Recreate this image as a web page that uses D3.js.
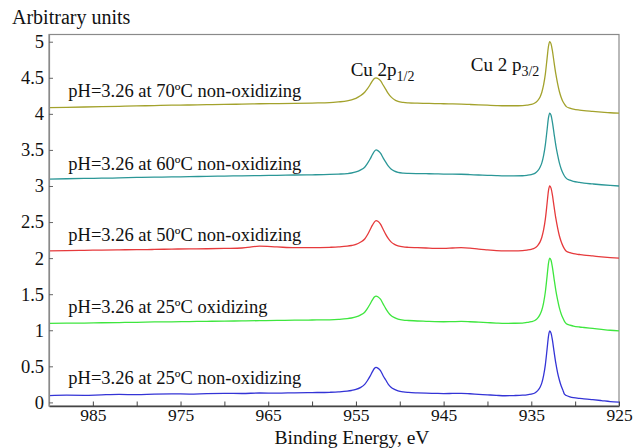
<!DOCTYPE html>
<html>
<head>
<meta charset="utf-8">
<script src="https://cdn.jsdelivr.net/npm/d3@7"></script>
<style>
  html, body { margin: 0; padding: 0; background: #fff; }
  svg { display: block; }
  text { font-family: "Liberation Serif", "Times New Roman", serif; fill: #111; }
</style>
</head>
<body>
<svg id="chart" width="635" height="448"></svg>
<script>
// Binding energy grid (eV), high to low
const energy = [
  990, 988, 986, 984, 982, 980, 978, 976, 974, 972, 970, 968, 966, 964, 962, 960, 958,
  957, 956, 955.5, 955, 954.5, 954, 953.7, 953.4, 953.1, 952.9, 952.7, 952.5, 952.2, 951.9, 951.6, 951.3, 951, 950.6, 950.2, 949.6,
  949, 948, 947, 946, 945, 944, 943, 942, 941, 940, 939, 938, 937, 936,
  935.5, 935, 934.6, 934.3, 934, 933.8, 933.6, 933.4, 933.2, 933.05, 932.9, 932.75, 932.6, 932.4, 932.2, 932, 931.8, 931.6, 931.4, 931.2, 931, 930.6, 930.2,
  929.5, 929, 928, 927, 926, 925
];

// Stacked spectra (arbitrary units)
const ph25NonOx = [
  0.095, 0.100, 0.098, 0.105, 0.110, 0.108, 0.115, 0.118, 0.116, 0.122, 0.125, 0.123, 0.130, 0.128, 0.133, 0.136, 0.140,
  0.145, 0.155, 0.165, 0.180, 0.205, 0.250, 0.300, 0.360, 0.430, 0.470, 0.485, 0.475, 0.440, 0.370, 0.310, 0.250, 0.210, 0.180, 0.160, 0.145,
  0.138, 0.132, 0.128, 0.125, 0.122, 0.124, 0.126, 0.120, 0.112, 0.105, 0.098, 0.092, 0.095, 0.100,
  0.105, 0.115, 0.130, 0.160, 0.210, 0.270, 0.370, 0.520, 0.740, 0.910, 0.990, 0.960, 0.870, 0.700, 0.540, 0.410, 0.310, 0.230, 0.170, 0.110, 0.095, 0.078, 0.066,
  0.055, 0.050, 0.038, 0.025, 0.012, 0.005
];
const ph25Ox = [
  1.095, 1.098, 1.100, 1.104, 1.107, 1.110, 1.115, 1.117, 1.120, 1.124, 1.126, 1.130, 1.133, 1.136, 1.140, 1.142, 1.145,
  1.150, 1.160, 1.170, 1.185, 1.210, 1.250, 1.300, 1.360, 1.425, 1.460, 1.474, 1.465, 1.430, 1.365, 1.300, 1.245, 1.205, 1.175, 1.155, 1.140,
  1.135, 1.128, 1.124, 1.120, 1.118, 1.120, 1.122, 1.118, 1.112, 1.106, 1.100, 1.096, 1.097, 1.100,
  1.108, 1.118, 1.135, 1.165, 1.220, 1.280, 1.380, 1.530, 1.750, 1.920, 2.000, 1.970, 1.880, 1.710, 1.550, 1.420, 1.310, 1.230, 1.170, 1.120, 1.090, 1.070, 1.058,
  1.045, 1.038, 1.025, 1.012, 1.000, 0.992
];
const ph50NonOx = [
  2.100, 2.105, 2.108, 2.112, 2.115, 2.118, 2.120, 2.125, 2.128, 2.130, 2.135, 2.140, 2.165, 2.155, 2.145, 2.145, 2.150,
  2.155, 2.165, 2.175, 2.190, 2.220, 2.265, 2.320, 2.390, 2.460, 2.500, 2.520, 2.510, 2.470, 2.400, 2.330, 2.270, 2.225, 2.190, 2.170, 2.155,
  2.150, 2.145, 2.140, 2.135, 2.135, 2.140, 2.145, 2.138, 2.125, 2.115, 2.105, 2.100, 2.100, 2.105,
  2.112, 2.122, 2.140, 2.170, 2.225, 2.290, 2.390, 2.540, 2.760, 2.930, 3.000, 2.970, 2.880, 2.710, 2.550, 2.420, 2.310, 2.230, 2.170, 2.125, 2.095, 2.075, 2.062,
  2.050, 2.042, 2.030, 2.018, 2.008, 2.000
];
const ph60NonOx = [
  3.095, 3.100, 3.105, 3.108, 3.112, 3.118, 3.122, 3.125, 3.130, 3.133, 3.138, 3.140, 3.145, 3.148, 3.152, 3.155, 3.160,
  3.165, 3.172, 3.180, 3.195, 3.220, 3.260, 3.310, 3.370, 3.440, 3.480, 3.500, 3.490, 3.455, 3.390, 3.330, 3.275, 3.235, 3.205, 3.188, 3.178,
  3.175, 3.172, 3.170, 3.168, 3.165, 3.165, 3.163, 3.158, 3.152, 3.148, 3.143, 3.140, 3.140, 3.142,
  3.148, 3.158, 3.175, 3.205, 3.260, 3.320, 3.420, 3.570, 3.780, 3.940, 4.010, 3.980, 3.890, 3.720, 3.560, 3.430, 3.320, 3.240, 3.180, 3.135, 3.105, 3.080, 3.065,
  3.050, 3.040, 3.028, 3.017, 3.008, 3.000
];
const ph70NonOx = [
  4.085, 4.090, 4.095, 4.100, 4.105, 4.110, 4.115, 4.120, 4.123, 4.128, 4.130, 4.135, 4.140, 4.142, 4.145, 4.150, 4.155,
  4.165, 4.180, 4.195, 4.215, 4.250, 4.300, 4.345, 4.400, 4.460, 4.490, 4.500, 4.490, 4.460, 4.400, 4.340, 4.280, 4.235, 4.195, 4.172, 4.158,
  4.152, 4.148, 4.145, 4.142, 4.140, 4.138, 4.135, 4.130, 4.125, 4.120, 4.115, 4.112, 4.112, 4.115,
  4.120, 4.130, 4.150, 4.180, 4.235, 4.300, 4.400, 4.550, 4.770, 4.930, 5.000, 4.970, 4.880, 4.710, 4.550, 4.420, 4.310, 4.230, 4.170, 4.130, 4.100, 4.078, 4.065,
  4.052, 4.045, 4.035, 4.025, 4.015, 4.010
];

const seriesNames = [
  "pH=3.26 at 25ºC non-oxidizing",
  "pH=3.26 at 25ºC oxidizing",
  "pH=3.26 at 50ºC non-oxidizing",
  "pH=3.26 at 60ºC non-oxidizing",
  "pH=3.26 at 70ºC non-oxidizing"
];
const seriesValues = [ph25NonOx, ph25Ox, ph50NonOx, ph60NonOx, ph70NonOx];
const seriesColors = ["#3434d6", "#3ee63e", "#e63a3c", "#2b9797", "#a3a22c"];
// Label anchor in data units: energy of left edge, level of text baseline
const labelEnergy = 987.8;
const labelLevel = [0.255, 1.24, 2.24, 3.215, 4.23];

const xTicks = d3.range(985, 924, -5);
const yTicks = d3.range(0, 5.01, 0.5);

const svg = d3.select("#chart");
const plotLeft = 49, plotRight = 619, plotTop = 34.5, plotBottom = 406;
const serif = "'Liberation Serif', 'Times New Roman', serif";

const x = d3.scaleLinear().domain([990, 925]).range([plotLeft, plotRight]);
const y = d3.scaleLinear().domain([-0.05, 5.1]).range([plotBottom, plotTop]);

svg.append("defs").append("clipPath").attr("id", "plotClip")
  .append("rect").attr("x", plotLeft).attr("y", plotTop)
  .attr("width", plotRight - plotLeft).attr("height", plotBottom - plotTop);

// Frame
svg.append("rect")
  .attr("x", plotLeft).attr("y", plotTop)
  .attr("width", plotRight - plotLeft).attr("height", plotBottom - plotTop)
  .attr("fill", "none").attr("stroke", "#8a8a8a").attr("stroke-width", 1.2);

// Spectra
const line = d3.line()
  .x((d, i) => x(energy[i]))
  .y(d => y(d))
  .curve(d3.curveMonotoneX);

const traces = svg.append("g").attr("clip-path", "url(#plotClip)");
seriesValues.forEach((vals, k) => {
  traces.append("path")
    .attr("d", line(vals))
    .attr("fill", "none")
    .attr("stroke", seriesColors[k])
    .attr("stroke-width", 1.3)
    .attr("stroke-linejoin", "round");
});

// X axis (ticks pointing inward, labels every 10 eV)
const xAxis = d3.axisBottom(x)
  .tickValues(xTicks)
  .tickSizeInner(-4.5)
  .tickSizeOuter(0)
  .tickPadding(3)
  .tickFormat(d => ((d - 925) % 10 === 0 ? String(d) : ""));
const gx = svg.append("g").attr("transform", `translate(0,${plotBottom})`).call(xAxis);
gx.select(".domain").attr("stroke", "#444").attr("stroke-width", 1.5);
gx.selectAll(".tick line").attr("stroke", "#444").attr("stroke-width", 1);
gx.selectAll(".tick text")
  .attr("font-size", 17.5).attr("fill", "#111")
  .style("font-family", serif);

// Y axis (ticks pointing inward)
const yAxis = d3.axisLeft(y)
  .tickValues(yTicks)
  .tickSizeInner(-4)
  .tickSizeOuter(0)
  .tickPadding(5)
  .tickFormat(d => String(d));
const gy = svg.append("g").attr("transform", `translate(${plotLeft},0)`).call(yAxis);
gy.select(".domain").attr("stroke", "#8a8a8a").attr("stroke-width", 1.2);
gy.selectAll(".tick line").attr("stroke", "#666").attr("stroke-width", 1);
gy.selectAll(".tick text")
  .attr("font-size", 18.5).attr("fill", "#111")
  .style("font-family", serif);

// Axis titles
svg.append("text")
  .attr("x", 12).attr("y", 24)
  .attr("font-size", 20)
  .text("Arbitrary units");

svg.append("text")
  .attr("x", 352).attr("y", 443.5)
  .attr("text-anchor", "middle")
  .attr("font-size", 19.5)
  .text("Binding Energy, eV");

// Series labels
seriesNames.forEach((name, k) => {
  svg.append("text")
    .attr("x", x(labelEnergy)).attr("y", y(labelLevel[k]))
    .attr("font-size", 18.5)
    .text(name);
});

// Peak annotations
const p12 = svg.append("text").attr("x", x(955.6)).attr("y", y(4.53)).attr("font-size", 19);
p12.append("tspan").text("Cu 2p");
p12.append("tspan").attr("font-size", 14).attr("dy", 5).text("1/2");

const p32 = svg.append("text").attr("x", x(941.9)).attr("y", y(4.6)).attr("font-size", 19);
p32.append("tspan").text("Cu 2 p");
p32.append("tspan").attr("font-size", 14).attr("dy", 5).text("3/2");
</script>
</body>
</html>
